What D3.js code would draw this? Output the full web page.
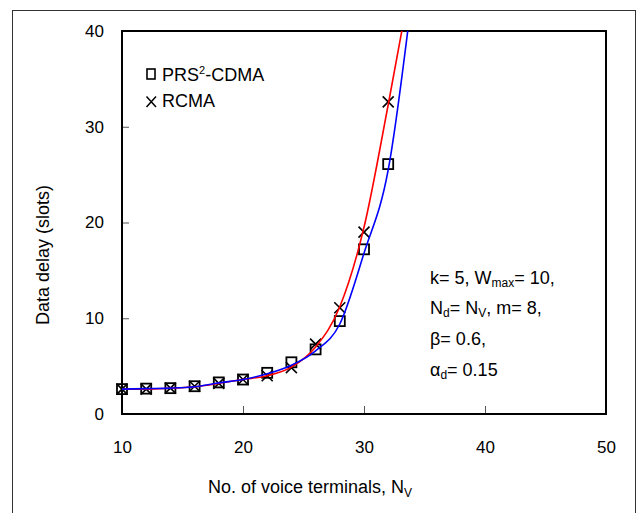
<!DOCTYPE html>
<html>
<head>
<meta charset="utf-8">
<script src="https://cdn.jsdelivr.net/npm/d3@7"></script>
<style>
  body { margin: 0; background: #fff; }
  text { font-family: "Liberation Sans", Arial, sans-serif; fill: #000; }
</style>
</head>
<body>
<div id="chart"></div>
<script>
// simulation points (markers)
const simX = [10, 12, 14, 16, 18, 20, 22, 24, 26, 28, 30, 32];
const prsSim = [2.6, 2.65, 2.7, 2.9, 3.3, 3.6, 4.3, 5.4, 6.75, 9.7, 17.2, 26.1];
const rcmaSim = [2.6, 2.6, 2.7, 2.9, 3.2, 3.6, 4.0, 4.85, 7.3, 11.1, 19.0, 32.6];

// analytical curves (lines)
const curveX = [10, 12, 14, 16, 18, 20, 22, 24, 26, 28, 30, 32, 34];
const prsLine = [2.6, 2.65, 2.7, 2.85, 3.25, 3.6, 4.2, 5.1, 6.6, 9.4, 16.8, 25.5, 44];
const rcmaLine = [2.6, 2.6, 2.7, 2.85, 3.2, 3.6, 4.0, 4.9, 7.0, 11.2, 19.5, 32.3, 46];

const xTicks = [10, 20, 30, 40, 50];
const yTicks = [0, 10, 20, 30, 40];

const width = 636, height = 513;
const margin = { top: 31, right: 30, bottom: 99, left: 122 };

const svg = d3.select("#chart")
  .append("svg")
  .attr("width", width)
  .attr("height", height);

// outer frame of the figure
svg.append("rect")
  .attr("x", 12.5).attr("y", 10.5)
  .attr("width", 623).attr("height", 520)
  .attr("fill", "none")
  .attr("stroke", "#333")
  .attr("stroke-width", 1);

const x = d3.scaleLinear()
  .domain([10, 50])
  .range([margin.left, width - margin.right]);

const y = d3.scaleLinear()
  .domain([0, 40])
  .range([height - margin.bottom, margin.top]);

// clip for curves that shoot past 40
svg.append("clipPath").attr("id", "plot-clip")
  .append("rect")
  .attr("x", x(10)).attr("y", y(40))
  .attr("width", x(50) - x(10)).attr("height", y(0) - y(40));

// axes, ticks point inward
svg.append("g")
  .attr("transform", `translate(0,${y(0)})`)
  .call(d3.axisBottom(x).tickValues(xTicks).tickSizeInner(-8).tickSizeOuter(0).tickPadding(27))
  .call(g => g.select(".domain").remove())
  .call(g => g.selectAll("text").attr("font-size", 17).attr("font-family", null))
  .call(g => g.selectAll("line").attr("stroke", "#555"));

svg.append("g")
  .attr("transform", `translate(${x(10)},0)`)
  .call(d3.axisLeft(y).tickValues(yTicks).tickSizeInner(-7).tickSizeOuter(0).tickPadding(18))
  .call(g => g.select(".domain").remove())
  .call(g => g.selectAll("text").attr("font-size", 17).attr("font-family", null))
  .call(g => g.selectAll("line").attr("stroke", "#555"));

// plot box
svg.append("rect")
  .attr("x", x(10)).attr("y", y(40))
  .attr("width", x(50) - x(10)).attr("height", y(0) - y(40))
  .attr("fill", "none")
  .attr("stroke", "#000")
  .attr("stroke-width", 2);

// markers
const sq = 10;
svg.append("g")
  .selectAll("rect")
  .data(simX.map((d, i) => [d, prsSim[i]]))
  .join("rect")
  .attr("x", d => x(d[0]) - sq / 2)
  .attr("y", d => y(d[1]) - sq / 2)
  .attr("width", sq).attr("height", sq)
  .attr("fill", "none")
  .attr("stroke", "#000")
  .attr("stroke-width", 1.8);

const cr = 5.5;
svg.append("g")
  .selectAll("path")
  .data(simX.map((d, i) => [d, rcmaSim[i]]))
  .join("path")
  .attr("d", d => {
    const cx = x(d[0]), cy = y(d[1]);
    return `M${cx - cr},${cy - cr}L${cx + cr},${cy + cr}M${cx - cr},${cy + cr}L${cx + cr},${cy - cr}`;
  })
  .attr("stroke", "#000")
  .attr("stroke-width", 1.6)
  .attr("fill", "none");

// lines
const line = d3.line()
  .x(d => x(d[0]))
  .y(d => y(d[1]))
  .curve(d3.curveMonotoneX);

const curves = svg.append("g").attr("clip-path", "url(#plot-clip)");
curves.append("path")
  .datum(curveX.map((d, i) => [d, rcmaLine[i]]))
  .attr("d", line)
  .attr("fill", "none")
  .attr("stroke", "#ff0000")
  .attr("stroke-width", 1.6);
curves.append("path")
  .datum(curveX.map((d, i) => [d, prsLine[i]]))
  .attr("d", line)
  .attr("fill", "none")
  .attr("stroke", "#0000ff")
  .attr("stroke-width", 1.6);

// legend
svg.append("rect")
  .attr("x", 147).attr("y", 69)
  .attr("width", 8).attr("height", 10)
  .attr("fill", "none")
  .attr("stroke", "#000")
  .attr("stroke-width", 1.6);
svg.append("path")
  .attr("d", "M146.5,96.5L156,107M146.5,107L156,96.5")
  .attr("stroke", "#000")
  .attr("stroke-width", 1.5)
  .attr("fill", "none");

const leg1 = svg.append("text").attr("x", 162).attr("y", 81).attr("font-size", 18);
leg1.append("tspan").text("PRS");
leg1.append("tspan").attr("font-size", 11).attr("dy", -7).text("2");
leg1.append("tspan").attr("dy", 7).text("-CDMA");

svg.append("text").attr("x", 162).attr("y", 107).attr("font-size", 18).text("RCMA");

// parameter note
const note = svg.append("g").attr("font-size", 18);
const lineY = [284, 314, 345, 376];

const t1 = note.append("text").attr("x", 430).attr("y", lineY[0]);
t1.append("tspan").text("k= 5, W");
t1.append("tspan").attr("font-size", 12).attr("dy", 3).text("max");
t1.append("tspan").attr("dy", -3).text("= 10,");

const t2 = note.append("text").attr("x", 430).attr("y", lineY[1]);
t2.append("tspan").text("N");
t2.append("tspan").attr("font-size", 12).attr("dy", 3).text("d");
t2.append("tspan").attr("dy", -3).text("= N");
t2.append("tspan").attr("font-size", 12).attr("dy", 3).text("V");
t2.append("tspan").attr("dy", -3).text(", m= 8,");

note.append("text").attr("x", 430).attr("y", lineY[2]).text("β= 0.6,");

const t4 = note.append("text").attr("x", 430).attr("y", lineY[3]);
t4.append("tspan").text("α");
t4.append("tspan").attr("font-size", 12).attr("dy", 3).text("d");
t4.append("tspan").attr("dy", -3).text("= 0.15");

// axis titles
const xl = svg.append("text")
  .attr("x", 310).attr("y", 493)
  .attr("text-anchor", "middle")
  .attr("font-size", 18);
xl.append("tspan").text("No. of voice terminals, N");
xl.append("tspan").attr("font-size", 12).attr("dy", 4).text("V");

svg.append("text")
  .attr("transform", "translate(49,255) rotate(-90)")
  .attr("text-anchor", "middle")
  .attr("font-size", 18)
  .text("Data delay (slots)");
</script>
</body>
</html>
